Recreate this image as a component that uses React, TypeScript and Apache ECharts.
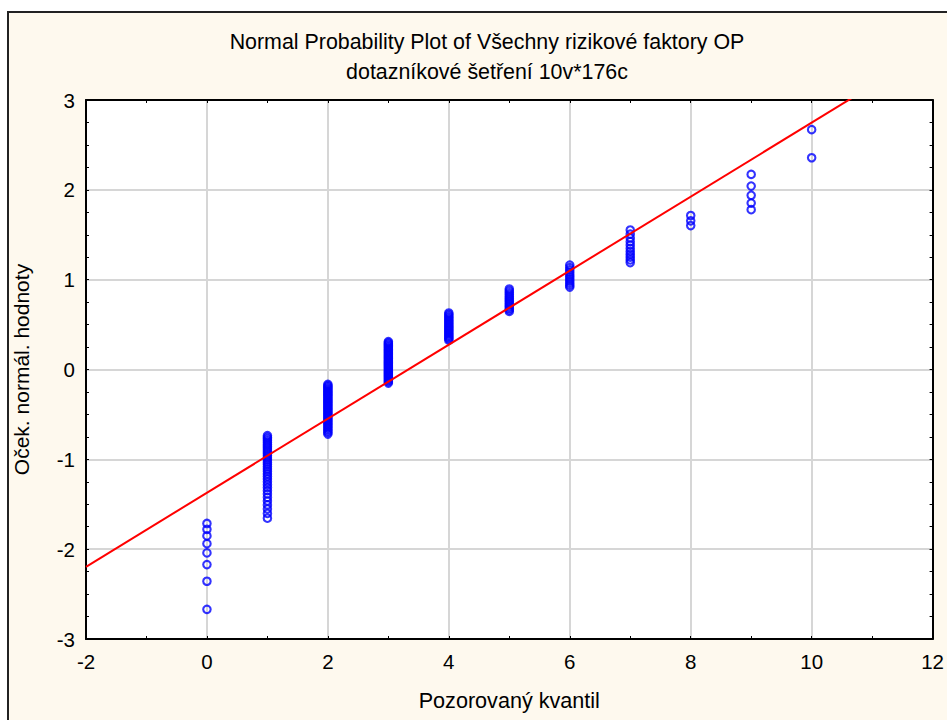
import React, { useEffect, useRef } from "react";
import * as echarts from "echarts";

// Observed quantiles (x) and the expected normal values (y) of each case at that x
const observedValues = [0, 1, 2, 3, 4, 5, 6, 7, 8, 9, 10];
const expectedAt0 = [-2.67, -2.357, -2.172, -2.042, -1.939, -1.853, -1.779, -1.714];
const expectedAt1 = [-1.655, -1.602, -1.553, -1.507, -1.464, -1.423, -1.385, -1.349, -1.314, -1.282, -1.25, -1.22, -1.19, -1.162, -1.134, -1.108, -1.082, -1.056, -1.032, -1.008, -0.984, -0.961, -0.939, -0.917, -0.896, -0.875, -0.854, -0.834, -0.814, -0.794, -0.775, -0.756, -0.737];
const expectedAt2 = [-0.719, -0.7, -0.682, -0.664, -0.647, -0.629, -0.612, -0.595, -0.578, -0.562, -0.545, -0.529, -0.512, -0.496, -0.48, -0.464, -0.448, -0.433, -0.417, -0.402, -0.386, -0.371, -0.356, -0.341, -0.326, -0.311, -0.296, -0.282, -0.267, -0.252, -0.238, -0.223, -0.209, -0.194, -0.18, -0.165];
const expectedAt3 = [-0.151, -0.136, -0.122, -0.107, -0.093, -0.078, -0.064, -0.05, -0.036, -0.021, -0.007, 0.007, 0.021, 0.036, 0.05, 0.064, 0.078, 0.093, 0.107, 0.122, 0.136, 0.151, 0.165, 0.18, 0.194, 0.209, 0.223, 0.238, 0.252, 0.267, 0.282, 0.296, 0.311];
const expectedAt4 = [0.326, 0.341, 0.356, 0.371, 0.386, 0.402, 0.417, 0.433, 0.448, 0.464, 0.48, 0.496, 0.512, 0.529, 0.545, 0.562, 0.578, 0.595, 0.612, 0.629];
const expectedAt5 = [0.647, 0.664, 0.682, 0.7, 0.719, 0.737, 0.756, 0.775, 0.794, 0.814, 0.834, 0.854, 0.875, 0.896];
const expectedAt6 = [0.917, 0.939, 0.961, 0.984, 1.008, 1.032, 1.056, 1.082, 1.108, 1.134, 1.162];
const expectedAt7 = [1.19, 1.22, 1.25, 1.282, 1.314, 1.349, 1.385, 1.423, 1.464, 1.507, 1.553];
const expectedAt8 = [1.602, 1.655, 1.714];
const expectedAt9 = [1.779, 1.853, 1.939, 2.042, 2.172];
const expectedAt10 = [2.357, 2.67];
const expectedGroups = [expectedAt0, expectedAt1, expectedAt2, expectedAt3, expectedAt4, expectedAt5, expectedAt6, expectedAt7, expectedAt8, expectedAt9, expectedAt10];

// Fitted reference line: y = intercept + slope * x
const fitIntercept = -1.372;
const fitSlope = 0.412;

const xTickMin = -2;
const xTickMax = 12;
const yTickMin = -3;
const yTickMax = 3;

const titleLine1 = "Normal Probability Plot of Všechny rizikové faktory OP";
const titleLine2 = "dotazníkové šetření 10v*176c";
const xName = "Pozorovaný kvantil";
const yName = "Oček. normál. hodnoty";

const FONT = "'Liberation Sans', Arial, sans-serif";

export default function App() {
  const ref = useRef<HTMLDivElement>(null);
  useEffect(() => {
    if (!ref.current) return;
    const chart = echarts.init(ref.current, null, { renderer: "svg" });
    const points: number[][] = [];
    observedValues.forEach((x, i) => {
      expectedGroups[i].forEach((y) => points.push([x, y]));
    });
    const lineData = [
      [xTickMin, fitIntercept + fitSlope * xTickMin],
      [xTickMax, fitIntercept + fitSlope * xTickMax],
    ];
    const tickStyle = { show: true, inside: true, length: 3, lineStyle: { color: "#000", width: 1 } };
    const axisLineStyle = { show: true, onZero: false, lineStyle: { color: "#000", width: 2 } };
    const labelStyle = { color: "#000", fontSize: 20.5, fontFamily: FONT };
    chart.setOption({
      animation: false,
      backgroundColor: "#ffffff",
      textStyle: { fontFamily: FONT },
      graphic: [
        {
          type: "rect",
          z: -100,
          silent: true,
          shape: { x: 8, y: 12, width: 960, height: 730 },
          style: { fill: "#FEF9EE", stroke: "#222", lineWidth: 2 },
        },
        {
          type: "text",
          z: 10,
          x: 487,
          y: 42,
          style: { text: titleLine1, fill: "#000", font: `21.4px ${FONT}`, align: "center", verticalAlign: "middle" },
        },
        {
          type: "text",
          z: 10,
          x: 487,
          y: 72,
          style: { text: titleLine2, fill: "#000", font: `21.4px ${FONT}`, align: "center", verticalAlign: "middle" },
        },
      ],
      grid: {
        left: 86,
        top: 100,
        right: 14,
        bottom: 81,
        show: true,
        backgroundColor: "#ffffff",
        borderWidth: 0,
      },
      xAxis: [
        {
          type: "value",
          min: xTickMin,
          max: xTickMax,
          interval: 2,
          position: "bottom",
          name: xName,
          nameLocation: "middle",
          nameGap: 50,
          nameTextStyle: { color: "#000", fontSize: 21.6, fontFamily: FONT },
          axisLine: axisLineStyle,
          axisTick: tickStyle,
          minorTick: { show: true, splitNumber: 2, length: 3, lineStyle: { color: "#000", width: 1 } },
          axisLabel: { ...labelStyle, margin: 12 },
          splitLine: { show: true, showMinLine: false, showMaxLine: false, lineStyle: { color: "#d6d6d6", width: 2 } },
        },
        {
          type: "value",
          min: xTickMin,
          max: xTickMax,
          interval: 2,
          position: "top",
          axisLine: axisLineStyle,
          axisTick: tickStyle,
          minorTick: { show: true, splitNumber: 2, length: 3, lineStyle: { color: "#000", width: 1 } },
          axisLabel: { show: false },
          splitLine: { show: false },
        },
      ],
      yAxis: [
        {
          type: "value",
          min: yTickMin,
          max: yTickMax,
          interval: 1,
          position: "left",
          name: yName,
          nameLocation: "middle",
          nameGap: 54,
          nameTextStyle: { color: "#000", fontSize: 21, fontFamily: FONT },
          axisLine: axisLineStyle,
          axisTick: tickStyle,
          minorTick: { show: true, splitNumber: 4, length: 3, lineStyle: { color: "#000", width: 1 } },
          axisLabel: { ...labelStyle, margin: 11 },
          splitLine: { show: true, showMinLine: false, showMaxLine: false, lineStyle: { color: "#d6d6d6", width: 2 } },
        },
        {
          type: "value",
          min: yTickMin,
          max: yTickMax,
          interval: 1,
          position: "right",
          axisLine: axisLineStyle,
          axisTick: tickStyle,
          minorTick: { show: true, splitNumber: 4, length: 3, lineStyle: { color: "#000", width: 1 } },
          axisLabel: { show: false },
          splitLine: { show: false },
        },
      ],
      series: [
        {
          type: "scatter",
          xAxisIndex: 0,
          yAxisIndex: 0,
          data: points,
          symbol: "circle",
          symbolSize: 7.5,
          itemStyle: { color: "rgba(255,255,255,0)", borderColor: "#0000ff", borderWidth: 2.1 },
          silent: true,
          z: 3,
        },
        {
          type: "line",
          xAxisIndex: 0,
          yAxisIndex: 0,
          data: lineData,
          clip: true,
          showSymbol: false,
          symbol: "none",
          lineStyle: { color: "#ff0000", width: 2 },
          silent: true,
          z: 4,
        },
      ],
    });
    return () => chart.dispose();
  }, []);
  return (
    <div
      ref={ref}
      style={{ position: "fixed", left: 0, top: 0, width: 947, height: 720 }}
    />
  );
}
